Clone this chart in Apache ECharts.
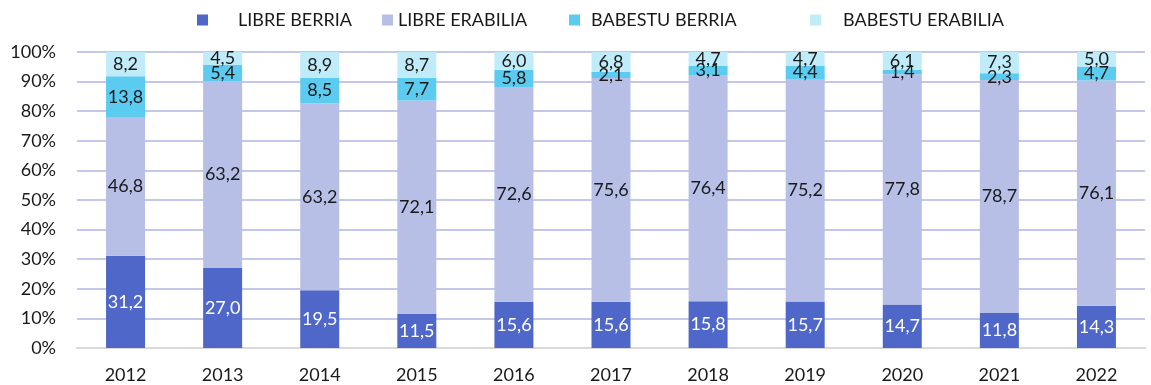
<!DOCTYPE html>
<html>
<head>
<meta charset="utf-8">
<script src="https://cdn.jsdelivr.net/npm/echarts@6/dist/echarts.min.js"></script>
<style>
  html, body { margin: 0; padding: 0; background: #fff; }
  #chart { width: 1151px; height: 385px; }
</style>
</head>
<body>
<div id="chart"></div>
<script>
// Years on the category axis
const years = ['2012', '2013', '2014', '2015', '2016', '2017', '2018', '2019', '2020', '2021', '2022'];

// Shares (%) per group, stacked bottom to top
const libreBerria    = [31.2, 27.0, 19.5, 11.5, 15.6, 15.6, 15.8, 15.7, 14.7, 11.8, 14.3];
const libreErabilia  = [46.8, 63.2, 63.2, 72.1, 72.6, 75.6, 76.4, 75.2, 77.8, 78.7, 76.1];
const babestuBerria  = [13.8, 5.4, 8.5, 7.7, 5.8, 2.1, 3.1, 4.4, 1.4, 2.3, 4.7];
const babestuErabilia = [8.2, 4.5, 8.9, 8.7, 6.0, 6.8, 4.7, 4.7, 6.1, 7.3, 5.0];

const seriesNames = ['LIBRE BERRIA', 'LIBRE ERABILIA', 'BABESTU BERRIA', 'BABESTU ERABILIA'];
const yTicks = [0, 10, 20, 30, 40, 50, 60, 70, 80, 90, 100];

const FONT = 'Lato';
const colors = ['#4f67c8', '#b7bfe6', '#5bcbf0', '#c0ecfa'];
const labelColors = ['#ffffff', '#1a1a1a', '#1a1a1a', '#1a1a1a'];
const dataSets = [libreBerria, libreErabilia, babestuBerria, babestuErabilia];

const fmt = v => v.toFixed(1).replace('.', ',');

const chart = echarts.init(document.getElementById('chart'), null, { renderer: 'canvas' });

// one legend block per series so each entry sits at its own spot
const legendLefts = [197, 382, 569, 810];
const legendTextPad = [25, 0, 6, 17];

const legends = seriesNames.map((name, i) => ({
  data: [name],
  left: legendLefts[i],
  top: 10,
  itemWidth: 11,
  itemHeight: 11,
  itemGap: 0,
  icon: 'rect',
  selectedMode: false,
  padding: 0,
  textStyle: {
    fontFamily: FONT,
    fontSize: 18,
    lineHeight: 20,
    color: '#1a1a1a',
    padding: [0, 0, 0, legendTextPad[i]]
  }
}));

chart.setOption({
  animation: false,
  legend: legends,
  grid: { left: 77, right: 6, top: 52, bottom: 37, containLabel: false },
  xAxis: {
    type: 'category',
    data: years,
    axisLine: { show: true, lineStyle: { color: '#d9d9d9', width: 2 } },
    axisTick: { show: false },
    axisLabel: { fontFamily: FONT, fontSize: 18, color: '#1a1a1a', margin: 18 }
  },
  yAxis: {
    type: 'value',
    min: 0,
    max: 100,
    interval: 10,
    axisLine: { show: false },
    axisTick: { show: false },
    splitLine: { lineStyle: { color: '#c3c7e9', width: 2 } },
    axisLabel: {
      fontFamily: FONT, fontSize: 18, color: '#1a1a1a', margin: 21,
      formatter: v => (yTicks.includes(v) ? v + '%' : '')
    }
  },
  series: dataSets.map((d, i) => ({
    name: seriesNames[i],
    type: 'bar',
    stack: 'total',
    barWidth: 39,
    data: d,
    itemStyle: { color: colors[i] },
    label: {
      show: true,
      position: 'inside',
      fontFamily: FONT,
      fontSize: 18,
      color: labelColors[i],
      formatter: p => fmt(p.value)
    }
  }))
});
</script>
</body>
</html>
